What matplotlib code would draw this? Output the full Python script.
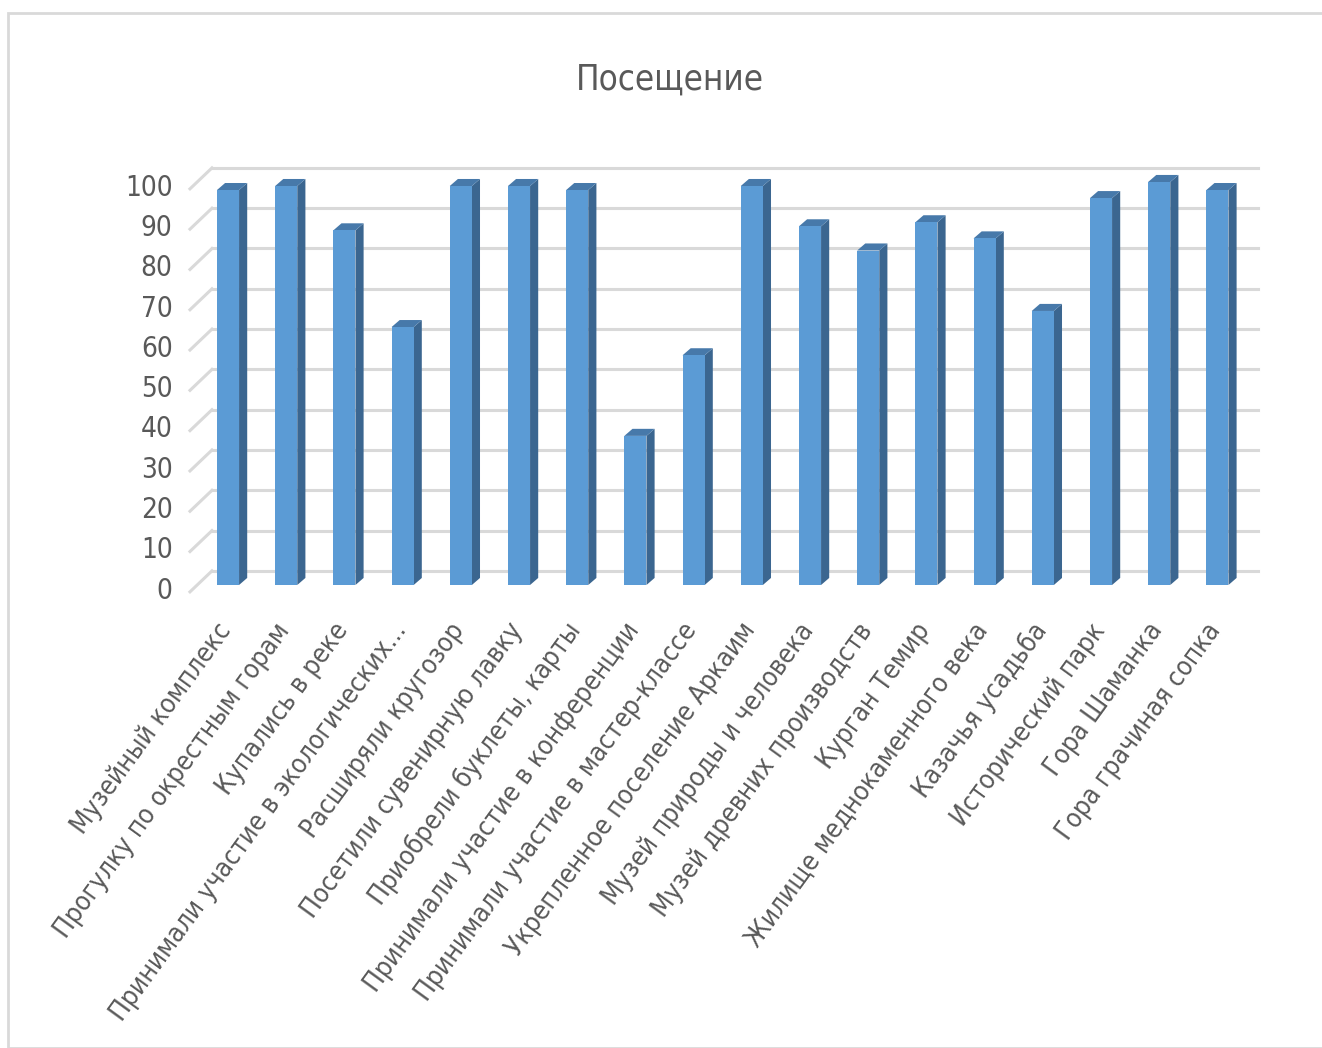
import matplotlib
matplotlib.use("Agg")
import matplotlib.pyplot as plt
from matplotlib.patches import Polygon, Rectangle

plt.rcParams['font.family'] = ['DejaVu Sans']
plt.rcParams['font.stretch'] = 'condensed'

title = "Посещение"
categories = [
    "Музейный комплекс",
    "Прогулку по окрестным горам",
    "Купались в реке",
    "Принимали участие в экологических...",
    "Расширяли кругозор",
    "Посетили сувенирную лавку",
    "Приобрели буклеты, карты",
    "Принимали участие в конференции",
    "Принимали участие в мастер-классе",
    "Укрепленное поселение Аркаим",
    "Музей природы и человека",
    "Музей древних производств",
    "Курган Темир",
    "Жилище меднокаменного века",
    "Казачья усадьба",
    "Исторический парк",
    "Гора Шаманка",
    "Гора грачиная сопка",
]
values = [98, 99, 88, 64, 99, 99, 98, 37, 57, 99, 89, 83, 90, 86, 68, 96, 100, 98]
yticks = [0, 10, 20, 30, 40, 50, 60, 70, 80, 90, 100]

front = "#5b9bd5"
side = "#3b6690"
top = "#4779aa"
grid_c = "#d9d9d9"
text_c = "#595959"

W, H = 1322, 1048
fig = plt.figure(figsize=(W / 100, H / 100), dpi=100)

# plot area in pixels: x 120..1280, y 150..640
left_px, right_px, top_px, bot_px = 120, 1280, 150, 640
ax = fig.add_axes([left_px / W, 1 - bot_px / H, (right_px - left_px) / W, (bot_px - top_px) / H])
x0, dxp = 228, 58.2     # pixel x of first category, spacing
y0, dyp = 585, 4.03     # pixel y of value 0, pixels per unit
ax.set_xlim((left_px - x0) / dxp, (right_px - x0) / dxp)
ax.set_ylim((y0 - bot_px) / dyp, (y0 - top_px) / dyp)
ax.axis('off')

# back wall gridlines and floor/wall diagonals
back_dy = 3.5
back_x0, back_x1 = -0.275, 17.70
diag_x0, diag_dy = -0.653, -1.7
for t in yticks:
    ax.plot([back_x0, back_x1], [t + back_dy, t + back_dy], color=grid_c, lw=2.2, zorder=1)
    ax.plot([diag_x0, back_x0], [t + diag_dy, t + back_dy], color=grid_c, lw=2.2, zorder=1)
    ax.text(diag_x0 - 0.3, t + diag_dy + 0.3, str(t), ha='right', va='center',
            fontsize=20, color=text_c)

# 3d-ish columns
w = 0.38
ddx, ddy = 0.14, 1.75
for i, v in enumerate(values):
    xl, xr = i - w / 2, i + w / 2
    ax.add_patch(Polygon([(xr, 0), (xr + ddx, ddy), (xr + ddx, v + ddy), (xr, v)],
                         closed=True, facecolor=side, edgecolor='none', zorder=2))
    ax.add_patch(Polygon([(xl, v), (xr, v), (xr + ddx, v + ddy), (xl + ddx, v + ddy)],
                         closed=True, facecolor=top, edgecolor='none', zorder=2))
    ax.add_patch(Rectangle((xl, 0), w, v, facecolor=front, edgecolor='none', zorder=3))

for i, lab in enumerate(categories):
    ax.text(i - 0.02, -10.2, lab, rotation=54, rotation_mode='anchor', ha='right', va='center',
            fontsize=19, color=text_c, clip_on=False)

fig.text(670 / W, 1 - 80 / H, title, ha='center', va='center', fontsize=25, color=text_c)

# chart border
fig.patches.append(Rectangle((8 / W, 0), 1.2, 1 - 13 / H, transform=fig.transFigure,
                             fill=False, edgecolor=grid_c, lw=2))

fig.savefig("out.png", dpi=100)
